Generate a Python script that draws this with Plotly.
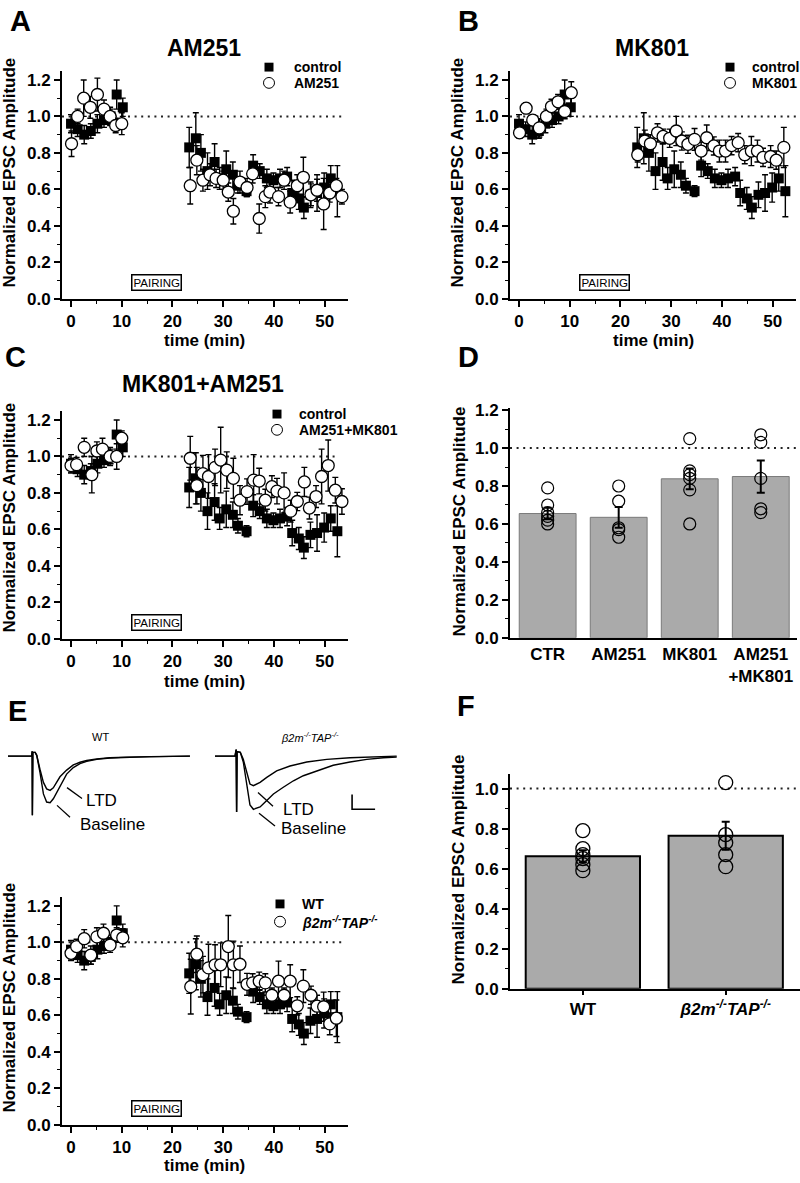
import plotly.graph_objects as go

# ---------------- data ----------------
# shared control (black squares) time course
ctrl_t = [0, 1.3, 2.6, 3.9, 5.2, 6.5, 7.8, 9.0, 10.2,
          23.3, 24.6, 25.6, 26.9, 28.3, 29.3, 30.6, 31.9, 32.9, 34.6,
          35.9, 37.2, 38.6, 39.9, 41.2, 42.6, 43.6, 44.9, 45.9, 47.2,
          48.5, 49.9, 51.2, 52.5]
ctrl_v = [0.96, 0.93, 0.90, 0.92, 0.96, 0.98, 1.00, 1.12, 1.05,
          0.83, 0.88, 0.80, 0.70, 0.75, 0.66, 0.71, 0.68, 0.62, 0.59,
          0.73, 0.70, 0.66, 0.65, 0.66, 0.67, 0.58, 0.55, 0.50, 0.57,
          0.58, 0.61, 0.66, 0.59]
ctrl_e = [0.05, 0.04, 0.05, 0.04, 0.05, 0.04, 0.04, 0.08, 0.05,
          0.11, 0.14, 0.10, 0.10, 0.10, 0.06, 0.10, 0.07, 0.04, 0.03,
          0.06, 0.04, 0.05, 0.04, 0.05, 0.05, 0.07, 0.06, 0.06, 0.07,
          0.10, 0.08, 0.07, 0.14]

# A: AM251
am_t = [0.1, 1.3, 2.5, 3.8, 5.2, 6.5, 7.7, 8.8, 10.0,
        23.5, 24.8, 26.0, 27.4, 28.6, 30.0, 31.0, 32.0, 33.3, 34.7,
        35.8, 37.1, 38.3, 39.2, 40.9, 42.0, 43.2, 44.6, 45.8, 47.3,
        48.5, 49.8, 51.0, 52.3, 53.4]
am_v = [0.85, 1.00, 1.10, 1.05, 1.12, 1.04, 1.00, 0.95, 0.96,
        0.62, 0.76, 0.65, 0.68, 0.66, 0.65, 0.585, 0.48, 0.64, 0.61,
        0.685, 0.44, 0.56, 0.585, 0.56, 0.65, 0.53, 0.62, 0.666, 0.57,
        0.595, 0.52, 0.58, 0.62, 0.56]
am_e = [0.07, 0.04, 0.10, 0.06, 0.09, 0.05, 0.05, 0.04, 0.06,
        0.10, 0.08, 0.06, 0.06, 0.05, 0.05, 0.05, 0.07, 0.06, 0.05,
        0.05, 0.08, 0.06, 0.06, 0.05, 0.05, 0.06, 0.06, 0.11, 0.06,
        0.06, 0.14, 0.05, 0.04, 0.04]

# B: MK801
mk_t = [0.1, 1.4, 2.7, 4.0, 5.4, 6.4, 7.7, 9.0, 10.3,
        23.4, 24.8, 25.9, 27.3, 28.4, 29.7, 31.0, 32.1, 33.3, 34.6,
        35.9, 37.0, 38.4, 39.5, 40.7, 41.9, 43.2, 44.5, 45.8, 47.0,
        48.1, 49.6, 50.7, 52.2]
mk_v = [0.91, 1.045, 0.98, 0.937, 1.0, 1.054, 1.08, 1.027, 1.13,
        0.79, 0.865, 0.85, 0.91, 0.89, 0.88, 0.92, 0.865, 0.847, 0.874,
        0.81, 0.883, 0.838, 0.81, 0.81, 0.84, 0.856, 0.79, 0.81, 0.81,
        0.775, 0.78, 0.76, 0.83]
mk_e = [0.03, 0.03, 0.03, 0.05, 0.04, 0.04, 0.04, 0.04, 0.06,
        0.04, 0.06, 0.05, 0.05, 0.04, 0.05, 0.08, 0.05, 0.05, 0.06,
        0.05, 0.07, 0.05, 0.06, 0.06, 0.05, 0.05, 0.05, 0.08, 0.06,
        0.05, 0.06, 0.05, 0.11]

# C: AM251+MK801
amk_t = [0.0, 1.1, 2.6, 4.1, 5.1, 6.2, 7.7, 9.0, 10.0,
         23.5, 24.8, 26.0, 27.1, 28.4, 29.5, 30.7, 32.0, 33.3, 34.7,
         36.0, 37.1, 38.3, 39.6, 40.6, 42.0, 43.3, 44.6, 46.0, 47.0,
         48.3, 49.4, 50.7, 52.1, 53.4]
amk_v = [0.95, 0.955, 1.05, 0.90, 1.03, 1.04, 1.00, 1.00, 1.10,
         0.99, 0.84, 0.906, 0.89, 0.94, 0.98, 0.925, 0.88, 0.76, 0.807,
         0.87, 0.865, 0.76, 0.834, 0.81, 0.80, 0.70, 0.753, 0.86, 0.717,
         0.78, 0.89, 0.95, 0.815, 0.753]
amk_e = [0.04, 0.04, 0.05, 0.10, 0.05, 0.06, 0.05, 0.07, 0.04,
         0.12, 0.10, 0.10, 0.12, 0.10, 0.18, 0.10, 0.11, 0.08, 0.07,
         0.14, 0.07, 0.06, 0.06, 0.07, 0.11, 0.06, 0.05, 0.08, 0.06,
         0.06, 0.15, 0.14, 0.07, 0.07]

# E: b2m-/-TAP-/-
b2_t = [0.0, 1.1, 2.6, 3.9, 5.1, 6.4, 7.7, 9.0, 10.2,
        23.6, 24.8, 26.0, 27.1, 28.4, 29.5, 31.0, 32.0, 33.3, 34.7,
        35.8, 37.1, 38.3, 39.6, 40.9, 42.0, 43.2, 44.6, 45.8, 47.3,
        48.5, 49.8, 51.0, 52.3]
b2_v = [0.94, 0.977, 1.02, 0.93, 1.03, 1.05, 0.985, 1.04, 1.025,
        0.757, 0.935, 0.823, 0.86, 0.877, 0.877, 0.977, 0.877, 0.88, 0.77,
        0.778, 0.787, 0.778, 0.71, 0.787, 0.71, 0.787, 0.652, 0.76, 0.71,
        0.65, 0.647, 0.553, 0.584]
b2_e = [0.04, 0.04, 0.05, 0.05, 0.05, 0.05, 0.04, 0.04, 0.05,
        0.15, 0.10, 0.10, 0.13, 0.11, 0.12, 0.17, 0.13, 0.10, 0.06,
        0.05, 0.05, 0.05, 0.04, 0.11, 0.04, 0.09, 0.05, 0.09, 0.05,
        0.06, 0.08, 0.06, 0.10]

# D: summary bars
d_cats = ["CTR", "AM251", "MK801", "AM251<br>+MK801"]
d_mean = [0.655, 0.635, 0.838, 0.85]
d_sem = [0.03, 0.055, 0.055, 0.085]
d_points = [[0.79, 0.70, 0.66, 0.64, 0.62, 0.60],
            [0.80, 0.72, 0.58, 0.57, 0.53],
            [1.05, 0.88, 0.86, 0.84, 0.78, 0.60],
            [1.07, 1.03, 0.84, 0.68, 0.66]]
d_signif = ["MK801", "AM251<br>+MK801"]

# F: summary bars
f_cats = ["WT", "<i>β2m<sup>-/-</sup>TAP<sup>-/-</sup></i>"]
f_mean = [0.662, 0.764]
f_sem = [0.03, 0.07]
f_points = [[0.79, 0.70, 0.67, 0.65, 0.62, 0.59],
            [1.03, 0.77, 0.73, 0.67, 0.61]]

# E: example EPSC traces (time in ms, current in pA)
wt_base_t = [0, 10.3, 10.5, 10.6, 10.8, 11.8, 12.5, 13.9, 15.4, 16.8, 18.3, 19.7, 21.2,
             22.6, 24.1, 25.5, 28.4, 31.3, 34.2, 38.6, 44.3, 51.6, 61.7, 79.1]
wt_base_i = [0, 0, 33, -400, 25, 25, 5, -111, -256, -311, -316, -289, -244,
             -200, -156, -122, -78, -51, -36, -22, -13, -9, -4, 0]
wt_ltd_t = [0, 10.3, 10.5, 10.6, 10.8, 11.8, 12.5, 13.9, 15.4, 16.8, 18.3, 19.7, 21.2,
            22.6, 25.5, 28.4, 31.3, 34.2, 38.6, 44.3, 51.6, 61.7, 79.1]
wt_ltd_i = [0, 0, 33, -400, 25, 25, 5, -89, -178, -222, -232, -215, -180,
            -140, -95, -60, -42, -30, -19, -11, -7, -4, 0]
ko_base_t = [0, 8.7, 9.2, 9.4, 9.6, 11.0, 12.3, 13.8, 15.2, 16.7, 19.6, 22.5, 25.4,
             29.7, 34.1, 38.4, 44.2, 51.4, 58.7, 66.0, 73.2, 79.0]
ko_base_i = [0, 0, 44, -378, 30, 25, -40, -200, -330, -360, -344, -300, -256,
             -211, -167, -133, -100, -62, -40, -22, -11, -7]
ko_ltd_t = [0, 8.7, 9.2, 9.4, 9.6, 11.0, 12.3, 13.8, 15.2, 16.7, 19.6, 22.5, 26.8,
            32.6, 39.9, 48.6, 58.7, 79.0]
ko_ltd_i = [0, 0, 44, -378, 30, 25, -22, -111, -189, -200, -178, -144, -100,
            -67, -40, -22, -11, 0]
scale_ms = 10
scale_pa = 100

# ---------------- helpers ----------------
W, H = 800, 1183
FONT = "Liberation Sans, Arial, sans-serif"


def px(X):
    return X / W


def py(Y):
    return 1 - Y / H


fig = go.Figure()


def add_ts(xa, ya, t, v, e, kind):
    if kind == "ctrl":
        marker = dict(symbol="square", size=10, color="black", line=dict(width=0))
    else:
        marker = dict(symbol="circle", size=12, color="white",
                      line=dict(color="black", width=1.3))
    fig.add_trace(go.Scatter(
        x=t, y=v, mode="markers", marker=marker,
        error_y=dict(type="data", array=e, visible=True, color="black",
                     thickness=1.4, width=3),
        xaxis=xa, yaxis=ya, showlegend=False, cliponaxis=False))


for xa, ya, tt, vv, ee in [("x", "y", am_t, am_v, am_e),
                          ("x2", "y2", mk_t, mk_v, mk_e),
                          ("x3", "y3", amk_t, amk_v, amk_e),
                          ("x5", "y5", b2_t, b2_v, b2_e)]:
    add_ts(xa, ya, ctrl_t, ctrl_v, ctrl_e, "ctrl")
    add_ts(xa, ya, tt, vv, ee, "treat")

# D bars
fig.add_trace(go.Bar(x=d_cats, y=d_mean, width=0.8, xaxis="x4", yaxis="y4",
                     marker=dict(color="#aaaaaa", line=dict(color="#7a7a7a", width=1)),
                     error_y=dict(type="data", array=d_sem, color="black", thickness=2, width=4),
                     showlegend=False))
for c, pts in zip(d_cats, d_points):
    fig.add_trace(go.Scatter(x=[c] * len(pts), y=pts, mode="markers", xaxis="x4", yaxis="y4",
                             marker=dict(symbol="circle-open", size=12, color="black",
                                         line=dict(width=1.2)),
                             showlegend=False, cliponaxis=False))

# F bars
fig.add_trace(go.Bar(x=f_cats, y=f_mean, width=0.8, xaxis="x6", yaxis="y6",
                     marker=dict(color="#aaaaaa", line=dict(color="black", width=2)),
                     error_y=dict(type="data", array=f_sem, color="black", thickness=2, width=4),
                     showlegend=False))
for c, pts in zip(f_cats, f_points):
    fig.add_trace(go.Scatter(x=[c] * len(pts), y=pts, mode="markers", xaxis="x6", yaxis="y6",
                             marker=dict(symbol="circle-open", size=14, color="black",
                                         line=dict(width=1.3)),
                             showlegend=False, cliponaxis=False))

# traces
for xa, ya, tt, ii in [("x7", "y7", wt_base_t, wt_base_i), ("x7", "y7", wt_ltd_t, wt_ltd_i),
                       ("x8", "y8", ko_base_t, ko_base_i), ("x8", "y8", ko_ltd_t, ko_ltd_i)]:
    fig.add_trace(go.Scatter(x=tt, y=ii, mode="lines", line=dict(color="black", width=1.4),
                             xaxis=xa, yaxis=ya, showlegend=False, cliponaxis=False))
# scale bar (10 ms, 100 pA)
sb_t0, sb_i0 = 59.6, -360
fig.add_trace(go.Scatter(x=[sb_t0, sb_t0, sb_t0 + scale_ms],
                         y=[sb_i0 + scale_pa, sb_i0, sb_i0], mode="lines",
                         line=dict(color="black", width=1.6), xaxis="x8", yaxis="y8",
                         showlegend=False, cliponaxis=False))

# ---------------- axes ----------------
tickfont = dict(family=FONT, size=17, color="black", weight="bold")
base = dict(showline=True, linecolor="black", linewidth=2, ticks="outside", ticklen=6,
            tickwidth=1.6, tickcolor="black", tickfont=tickfont, showgrid=False,
            zeroline=False, fixedrange=True)

T_RANGE = [-1.78, 54.6]


def time_x(domain, anchor):
    return dict(base, domain=domain, anchor=anchor, range=T_RANGE, tick0=0, dtick=10,
                minor=dict(ticks="outside", ticklen=3, tickwidth=1.3, tickcolor="black", dtick=5))


def amp_y(y0pix, anchor, top, scale):
    return dict(base, domain=[py(y0pix), py(y0pix - top * scale)], anchor=anchor,
                range=[0, top], dtick=0.2, tickformat=".1f",
                minor=dict(ticks="outside", ticklen=3, tickwidth=1.3, tickcolor="black", dtick=0.1))


left = [px(62), px(348)]
right = [px(510), px(796)]
layout = dict(
    xaxis=time_x(left, "y"), yaxis=amp_y(296, "x", 1.25, 185),
    xaxis2=time_x(right, "y2"), yaxis2=amp_y(296, "x2", 1.25, 185),
    xaxis3=time_x(left, "y3"), yaxis3=amp_y(641, "x3", 1.25, 185),
    xaxis5=time_x(left, "y5"), yaxis5=amp_y(1134, "x5", 1.25, 185),
    xaxis4=dict(base, domain=[px(510), px(797)], anchor="y4", type="category",
                categoryorder="array", categoryarray=d_cats, range=[-0.53, 3.51], ticks=""),
    yaxis4=amp_y(640, "x4", 1.21, 192.5),
    xaxis6=dict(base, domain=[px(510), px(800)], anchor="y6", type="category",
                categoryorder="array", categoryarray=f_cats, range=[-0.51, 1.52], ticklen=4),
    yaxis6=amp_y(996, "x6", 1.074, 203),
    xaxis7=dict(domain=[px(8), px(192)], range=[0, 80], visible=False, anchor="y7"),
    yaxis7=dict(domain=[py(823), py(751)], range=[-420, 60], visible=False, anchor="x7"),
    xaxis8=dict(domain=[px(215), px(399)], range=[0, 80], visible=False, anchor="y8"),
    yaxis8=dict(domain=[py(823), py(751)], range=[-420, 60], visible=False, anchor="x8"),
)

# ---------------- shapes ----------------
dot = dict(color="#222222", width=2, dash="2px,4.6px")
shapes = [
    dict(type="line", xref="x", yref="y", x0=T_RANGE[0], x1=53.6, y0=1, y1=1, line=dot, layer="below"),
    dict(type="line", xref="x2", yref="y2", x0=T_RANGE[0], x1=54.6, y0=1, y1=1, line=dot, layer="below"),
    dict(type="line", xref="x3", yref="y3", x0=T_RANGE[0], x1=52.5, y0=1, y1=1, line=dot, layer="below"),
    dict(type="line", xref="x5", yref="y5", x0=T_RANGE[0], x1=53.6, y0=1, y1=1, line=dot, layer="below"),
    dict(type="line", xref="x4 domain", yref="y4", x0=0, x1=1, y0=1, y1=1, line=dot, layer="below"),
    dict(type="line", xref="x6 domain", yref="y6", x0=0, x1=1, y0=1, y1=1, line=dot, layer="below"),
]


def legend_marks(xc, y1, y2):
    return [
        dict(type="rect", xref="paper", yref="paper", x0=px(xc - 4.5), x1=px(xc + 4.5),
             y0=py(y1 + 4.5), y1=py(y1 - 4.5), fillcolor="black", line=dict(width=0)),
        dict(type="circle", xref="paper", yref="paper", x0=px(xc - 5.5), x1=px(xc + 5.5),
             y0=py(y2 + 5.5), y1=py(y2 - 5.5), fillcolor="white", line=dict(color="black", width=1)),
    ]


shapes += legend_marks(269, 61, 77)
shapes += legend_marks(730, 61, 77)
shapes += legend_marks(277, 413, 429)
shapes += legend_marks(280, 910, 928)

# leader lines for trace labels
for (x0, y0, x1, y1) in [(67, 792, 82, 803), (57, 810, 70, 822),
                         (258, 797, 273, 811), (259, 818, 275, 831)]:
    shapes.append(dict(type="line", xref="paper", yref="paper", x0=px(x0), y0=py(y0),
                       x1=px(x1), y1=py(y1), line=dict(color="black", width=1.3)))

# ---------------- annotations ----------------
ann = []


def txt(X, Y, s, size, bold=True, xanchor="center", angle=0, italic=False):
    ann.append(dict(xref="paper", yref="paper", x=px(X), y=py(Y), text=s, showarrow=False,
                    xanchor=xanchor, yanchor="middle", textangle=angle,
                    font=dict(family=FONT, size=size, color="black",
                              weight="bold" if bold else "normal",
                              style="italic" if italic else "normal")))


# panel letters
for L, X, Y in [("A", 20, 14), ("B", 468, 14), ("C", 15, 355), ("D", 468, 355),
                ("E", 17, 714), ("F", 466, 709)]:
    txt(X, Y, L, 29)
# titles
txt(204, 42, "AM251", 23)
txt(652, 42, "MK801", 23)
txt(203, 382, "MK801+AM251", 23)
# y titles
for X, Y in [(10, 168), (458, 168), (10, 518), (459, 522), (10, 1005), (458, 875)]:
    txt(X, Y, "Normalized EPSC Amplitude", 17, angle=-90)
# x titles
for X, Y in [(204, 338), (653, 338), (204, 684), (204, 1175)]:
    txt(X, Y, "time (min)", 17)
# legends
txt(292, 61, "control", 14, xanchor="left")
txt(292, 77, "AM251", 14, xanchor="left")
txt(750, 61, "control", 14, xanchor="left")
txt(750, 77, "MK801", 14, xanchor="left")
txt(297, 413, "control", 14, xanchor="left")
txt(297, 429, "AM251+MK801", 14, xanchor="left")
txt(300, 910, "WT", 14, xanchor="left")
txt(300, 928, "<i>β2m<sup>-/-</sup>TAP<sup>-/-</sup></i>", 14, xanchor="left")
# trace labels
txt(100, 741, "WT", 11, bold=False)
txt(310, 741, "β2m<sup>-/-</sup>TAP<sup>-/-</sup>", 11, bold=False, italic=True)
txt(101, 805, "LTD", 17, bold=False)
txt(112, 829, "Baseline", 17, bold=False)
txt(298, 814, "LTD", 17, bold=False)
txt(313, 833, "Baseline", 17, bold=False)
# pairing boxes
for xa, ya in [("x", "y"), ("x2", "y2"), ("x3", "y3"), ("x5", "y5")]:
    ann.append(dict(xref=xa, yref=ya, x=16.8, y=0.09, text="PAIRING", showarrow=False,
                    font=dict(family=FONT, size=11.5, color="black"),
                    bordercolor="black", borderwidth=1.5, borderpad=1, bgcolor="white"))
# significance stars
for c in d_signif:
    ann.append(dict(xref="x4", yref="y4", x=c, y=1.27, text="*", showarrow=False,
                    font=dict(family=FONT, size=24, color="black", weight="bold")))

fig.update_layout(
    width=W, height=H, margin=dict(l=0, r=0, t=0, b=0, pad=0),
    paper_bgcolor="white", plot_bgcolor="white", showlegend=False,
    shapes=shapes, annotations=ann, bargap=0.2, **layout)

fig.write_html(
    "out.html",
    config={"displayModeBar": False},
    post_script=(
        "document.documentElement.style.margin='0';"
        "document.body.style.margin='0';document.body.style.padding='0';"
        "document.body.style.overflow='hidden';"
        "var gd=document.getElementById('{plot_id}');"
        "gd.style.position='fixed';gd.style.top='0px';gd.style.left='0px';"
    ))
